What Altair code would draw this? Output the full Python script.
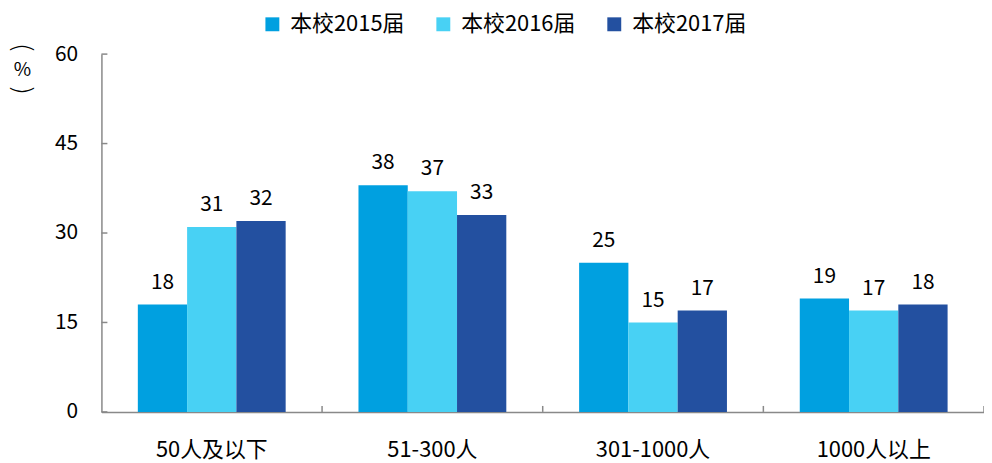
import altair as alt
import pandas as pd

categories = ["50人及以下", "51-300人", "301-1000人", "1000人以上"]
series = ["本校2015届", "本校2016届", "本校2017届"]
v2015 = [18, 38, 25, 19]
v2016 = [31, 37, 15, 17]
v2017 = [32, 33, 17, 18]
colors = ["#00A0E0", "#48D1F4", "#2350A0"]
y_ticks = [0, 15, 30, 45, 60]
boundaries = [1, 2, 3, 4]

rows = []
for s, vals in zip(series, [v2015, v2016, v2017]):
    for c, v in zip(categories, vals):
        rows.append({"cat": c, "series": s, "value": v})
df = pd.DataFrame(rows)

FONT = "Noto Sans CJK SC"
AXIS_COLOR = "#898989"

x = alt.X(
    "cat:N", sort=categories,
    scale=alt.Scale(paddingInner=0.33, paddingOuter=0.165),
    axis=alt.Axis(title=None, labelAngle=0, labelFontSize=22, labelColor="#000",
                  labelPadding=28, ticks=False, domainColor=AXIS_COLOR, domainWidth=1.5,
                  labelFont=FONT),
)
y_axis = alt.Axis(values=y_ticks, title="%", titleAngle=0, titleX=-80, titleY=16,
                  titleAlign="center", titleBaseline="middle", titleFontSize=19,
                  titleFontWeight="normal", titleFont=FONT, titleColor="#000",
                  ticks=False, grid=False, labelFontSize=21, labelPadding=24,
                  labelColor="#000", labelFont=FONT,
                  domainColor=AXIS_COLOR, domainWidth=1.5)
y_scale = alt.Scale(domain=[0, 60], nice=False, zero=True)
y = alt.Y("value:Q", scale=y_scale, axis=y_axis)
color = alt.Color(
    "series:N", sort=series,
    scale=alt.Scale(domain=series, range=colors),
    legend=alt.Legend(title=None, orient="none", direction="horizontal", legendX=161, legendY=-41,
                      symbolType="square", symbolSize=196, symbolStrokeWidth=0,
                      labelFontSize=22, labelFont=FONT, labelColor="#000", labelLimit=300,
                      columnPadding=28, labelOffset=7, padding=0),
)
xoff = alt.XOffset("series:N", sort=series)

base = alt.Chart(df)
bars = base.mark_bar().encode(x=x, xOffset=xoff, y=y, color=color)
labels = base.mark_text(dy=-12, baseline="bottom", fontSize=21, font=FONT, color="#000").encode(
    x=x, xOffset=xoff, y=y, text="value:Q"
)
main = alt.layer(bars, labels)

yticks = alt.Chart(pd.DataFrame({"value": y_ticks})).mark_rule(color=AXIS_COLOR, strokeWidth=1.5).encode(
    y=y, x=alt.value(0), x2=alt.value(6)
)
xticks = alt.Chart(pd.DataFrame({"b": boundaries})).mark_rule(color=AXIS_COLOR, strokeWidth=1.5).encode(
    x=alt.X("b:Q", scale=alt.Scale(domain=[0, 4], nice=False), axis=None),
    y=alt.value(354), y2=alt.value(360),
)

# vertical-form brackets around the unit
bracket_open = alt.Chart(pd.DataFrame({"t": ["("]})).mark_text(
    angle=90, fontSize=26, font="DejaVu Sans", fontWeight=100, color="#000", align="center", baseline="middle"
).encode(text="t:N", x=alt.value(-80), y=alt.value(-6))
bracket_close = alt.Chart(pd.DataFrame({"t": [")"]})).mark_text(
    angle=90, fontSize=26, font="DejaVu Sans", fontWeight=100, color="#000", align="center", baseline="middle"
).encode(text="t:N", x=alt.value(-80), y=alt.value(36))

chart = alt.layer(main, yticks, xticks, bracket_open, bracket_close).resolve_scale(x="independent").properties(
    width=888, height=360,
    autosize=alt.AutoSizeParams(type="none"),
    padding={"left": 94, "top": 45, "right": 0, "bottom": 49},
).configure_view(stroke=None)

chart.save("out.html", embed_options={"renderer": "svg", "actions": False})
